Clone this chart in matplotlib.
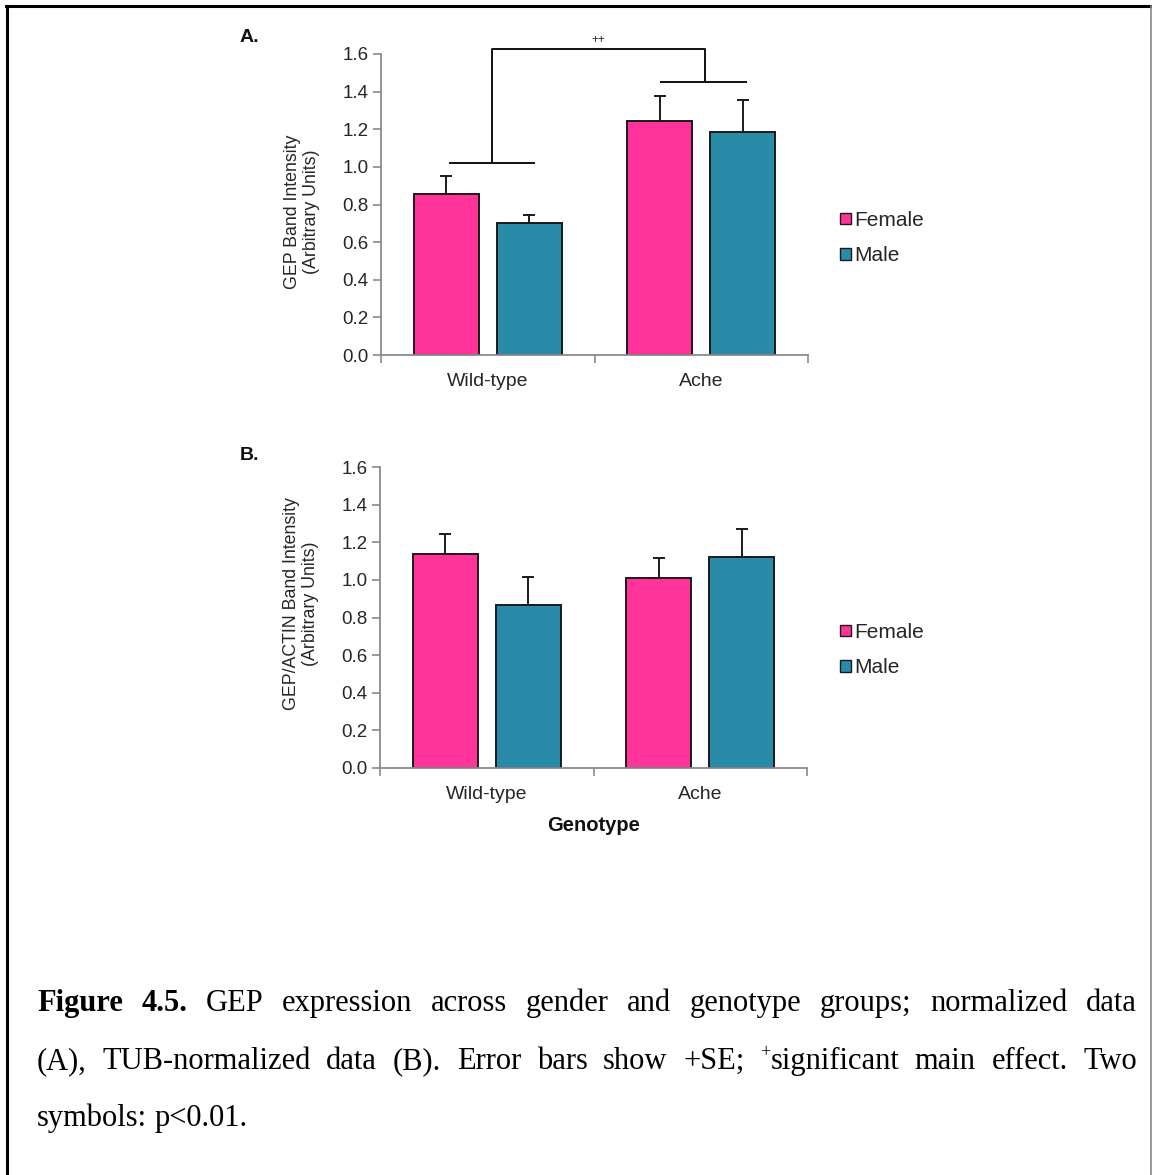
import matplotlib
matplotlib.use("Agg")
import matplotlib.pyplot as plt
from matplotlib.patches import Patch
from matplotlib.lines import Line2D
import numpy as np

# ---------------- data ----------------
genotypes = ["Wild-type", "Ache"]
series = ["Female", "Male"]

a_female = [0.857, 1.245]
a_female_se = [0.092, 0.130]
a_male = [0.704, 1.183]
a_male_se = [0.039, 0.170]

b_female = [1.135, 1.010]
b_female_se = [0.108, 0.106]
b_male = [0.865, 1.121]
b_male_se = [0.152, 0.152]

yticks = [0.0, 0.2, 0.4, 0.6, 0.8, 1.0, 1.2, 1.4, 1.6]
ylabel_a = "GEP Band Intensity\n(Arbitrary Units)"
ylabel_b = "GEP/ACTIN Band Intensity\n(Arbitrary Units)"
sig_label = "++"
sig_levels = [1.02, 1.45, 1.625]   # group lines (WT, Ache) and top of bracket

caption_lines = [
    [("Figure", "bold"), ("4.5.", "bold"), ("GEP", "normal"), ("expression", "normal"),
     ("across", "normal"), ("gender", "normal"), ("and", "normal"), ("genotype", "normal"),
     ("groups;", "normal"), ("normalized", "normal"), ("data", "normal")],
    [("(A),", "normal"), ("TUB-normalized", "normal"), ("data", "normal"), ("(B).", "normal"),
     ("Error", "normal"), ("bars", "normal"), ("show", "normal"), ("+SE;", "normal"),
     ("+|significant", "normal"), ("main", "normal"), ("effect.", "normal"), ("Two", "normal")],
    [("symbols:", "normal"), ("p<0.01.", "normal")],
]

# ---------------- style ----------------
W, H = 1152, 1175
PINK = "#FF3399"
TEAL = "#2A8BA8"
EDGE = "#1a1a1a"
AXC = "#8a8a8a"
TXT = "#262626"
SANS = ["Liberation Sans", "DejaVu Sans"]
SERIF = ["Liberation Serif", "DejaVu Serif"]

fig = plt.figure(figsize=(W / 100, H / 100), dpi=100)
fig.patch.set_facecolor("white")

def fx(px):
    return px / W

def fy(py):
    return 1 - py / H

offset = 0.194
width = 0.305
TICK_FS = 13.5
rect_center_leg = {"A.": 238, "B.": 650}
ylabel_center = {"A.": 0.475, "B.": 0.545}


def panel(rect, fem, fem_se, mal, mal_se, ylabel, letter, letter_y, show_xlabel):
    ax = fig.add_axes(rect)
    x = np.arange(len(genotypes))
    ax.bar(x - offset, fem, width, color=PINK, edgecolor=EDGE, linewidth=1.4, zorder=2)
    ax.bar(x + offset, mal, width, color=TEAL, edgecolor=EDGE, linewidth=1.4, zorder=2)
    ax.errorbar(x - offset, fem, yerr=[np.zeros(len(fem)), fem_se], fmt="none",
                ecolor=EDGE, elinewidth=1.4, capsize=4, capthick=1.4, zorder=3)
    ax.errorbar(x + offset, mal, yerr=[np.zeros(len(mal)), mal_se], fmt="none",
                ecolor=EDGE, elinewidth=1.4, capsize=4, capthick=1.4, zorder=3)
    ax.set_xlim(-0.5, len(genotypes) - 0.5)
    ax.set_ylim(0, 1.6)
    ax.set_yticks(yticks)
    ax.set_yticklabels([f"{v:.1f}" for v in yticks], fontsize=TICK_FS, family=SANS, color=TXT)
    ax.set_xticks([-0.5, 0.5, 1.5])
    ax.set_xticklabels([])
    ax.set_xticks(x, minor=True)
    ax.set_xticklabels(genotypes, minor=True, fontsize=TICK_FS + 0.5, family=SANS, color=TXT)
    ax.tick_params(axis="x", which="minor", length=0, pad=13)
    ax.tick_params(axis="x", which="major", length=6, width=1.2, color=AXC, direction="out")
    ax.tick_params(axis="y", length=6, width=1.2, color=AXC, direction="out", pad=3)
    for s in ["top", "right"]:
        ax.spines[s].set_visible(False)
    for s in ["left", "bottom"]:
        ax.spines[s].set_color(AXC)
        ax.spines[s].set_linewidth(1.3)
    ax.set_ylabel(ylabel, fontsize=12.8, family=SANS, color=TXT, linespacing=1.12)
    ax.yaxis.set_label_coords((302 - 381) / 427, ylabel_center[letter])
    ax.yaxis.label.set_va("center")
    if show_xlabel:
        ax.set_xlabel("Genotype", fontsize=14.5, family=SANS, fontweight="bold", color="#111111",
                      labelpad=9)
    fig.text(fx(240), fy(letter_y), letter, fontsize=14, family=SANS, fontweight="bold",
             va="center", ha="left", color="#111111")
    handles = [Patch(facecolor=PINK, edgecolor=EDGE, linewidth=1.0),
               Patch(facecolor=TEAL, edgecolor=EDGE, linewidth=1.0)]
    ax.legend(handles, series, loc="center left",
              bbox_to_anchor=(fx(830), fy(rect_center_leg[letter])), bbox_transform=fig.transFigure,
              frameon=False, prop={"family": SANS, "size": 15}, handlelength=0.5,
              handleheight=0.5, handletextpad=0.15, labelspacing=0.78, borderpad=0,
              labelcolor=TXT)
    return ax


rect_a = [fx(381), fy(355), fx(808) - fx(381), fy(54) - fy(355)]
rect_b = [fx(380), fy(768), fx(807) - fx(380), fy(467) - fy(768)]

ax_a = panel(rect_a, a_female, a_female_se, a_male, a_male_se, ylabel_a, "A.", 38, False)
ax_b = panel(rect_b, b_female, b_female_se, b_male, b_male_se, ylabel_b, "B.", 455, True)

# significance bracket (panel A)
lo_wt, lo_ache, top = sig_levels
kw = dict(color="#111111", lw=1.4, clip_on=False, solid_capstyle="butt")
ax_a.plot([-0.182, 0.222], [lo_wt, lo_wt], **kw)
ax_a.plot([0.809, 1.213], [lo_ache, lo_ache], **kw)
ax_a.plot([0.02, 0.02, 1.016, 1.016], [lo_wt, top, top, lo_ache], **kw)
ax_a.text(0.518, top + 0.015, sig_label, ha="center", va="bottom", fontsize=8.5,
          family=SANS, color=TXT, clip_on=False)

# ---------------- caption (justified) ----------------
renderer = fig.canvas.get_renderer()
CAP_SIZE = 22
left_px, right_px = 37, 1137
line_y = [1002, 1060, 1117]


def make_token(tok, weight):
    if "|" in tok:
        sup, rest = tok.split("|")
        t1 = fig.text(0, 0, sup, fontsize=CAP_SIZE * 0.6, family=SERIF, fontweight=weight,
                      va="baseline", ha="left")
        t2 = fig.text(0, 0, rest, fontsize=CAP_SIZE, family=SERIF, fontweight=weight,
                      va="baseline", ha="left")
        return [(t1, 12), (t2, 0)]
    t = fig.text(0, 0, tok, fontsize=CAP_SIZE, family=SERIF, fontweight=weight,
                 va="baseline", ha="left")
    return [(t, 0)]


for li, toks in enumerate(caption_lines):
    items = []
    for tok, weight in toks:
        arts = make_token(tok, weight)
        widths = [a.get_window_extent(renderer).width for a, _ in arts]
        items.append((arts, widths))
    total = sum(sum(w) for _, w in items)
    if li < len(caption_lines) - 1:
        gap = (right_px - left_px - total) / (len(items) - 1)
    else:
        gap = 7
    xcur = left_px
    base = line_y[li] + 9
    for arts, widths in items:
        for (a, dy), w in zip(arts, widths):
            a.set_position((fx(xcur), fy(base - dy)))
            xcur += w
        xcur += gap

# ---------------- frame ----------------
frame_kw = dict(color="black", lw=2.2, transform=fig.transFigure, clip_on=False)
fig.add_artist(Line2D([fx(7), fx(7)], [fy(6), 0], **frame_kw))
fig.add_artist(Line2D([fx(6), fx(1151)], [fy(6), fy(6)], **frame_kw))
fig.add_artist(Line2D([fx(1150.5), fx(1150.5)], [fy(6), 0], color="#888888", lw=1.2,
                      transform=fig.transFigure))

fig.savefig("out.png", dpi=100, facecolor="white")
